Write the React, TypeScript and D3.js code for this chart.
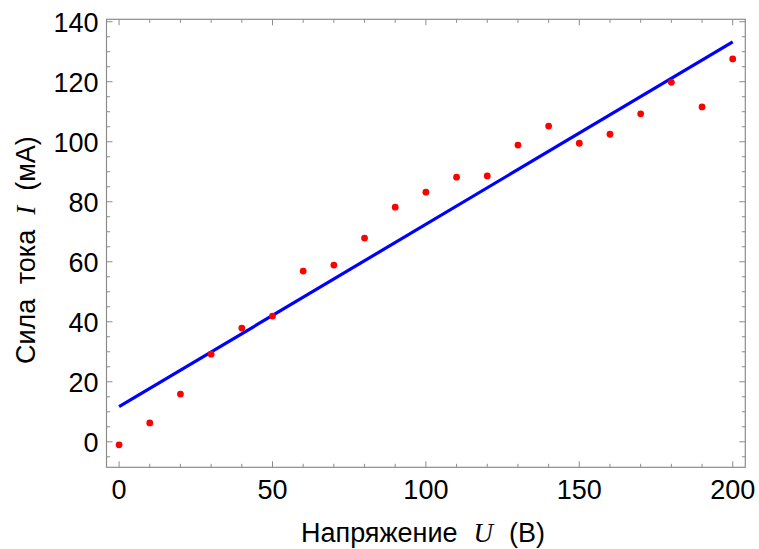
import React from "react";
import * as d3 from "d3";

const voltage = [0, 10, 20, 30, 40, 50, 60, 70, 80, 90, 100, 110, 120, 130, 140, 150, 160, 170, 180, 190, 200];
const current = [-1.0, 6.3, 15.9, 29.2, 37.9, 41.9, 56.9, 58.9, 67.9, 78.2, 83.2, 88.2, 88.6, 98.9, 105.2, 99.5, 102.5, 109.3, 119.8, 111.6, 127.6];
const fitU = [0, 200];
const fitI = [11.7, 133.3];
const xMajorTicks = [0, 50, 100, 150, 200];
const yMajorTicks = [0, 20, 40, 60, 80, 100, 120, 140];

const W = 759;
const H = 549;
const L = 106.5, R = 745.3, T = 19.3, B = 467.3;

export default function App() {
  const x = d3.scaleLinear().domain([-4.1, 204.1]).range([L, R]);
  const y = d3.scaleLinear().domain([-8.5, 140.8]).range([B, T]);
  const xMinor = d3.range(0, 201, 10).filter((v) => v % 50 !== 0);
  const yMinor = d3.range(-5, 141, 5).filter((v) => v % 20 !== 0);
  const line = d3
    .line<number>()
    .x((_, i) => x(fitU[i]))
    .y((d) => y(d));
  const frame = "#8c8c8c";
  const font = "'Liberation Sans', Arial, sans-serif";
  const serif = "'Liberation Serif', 'Times New Roman', serif";
  const maj = 6, min = 3.5;
  return (
    <svg width={W} height={H} style={{ position: "absolute", left: 0, top: 0, background: "#fff" }}>
      <rect x={L} y={T} width={R - L} height={B - T} fill="none" stroke={frame} strokeWidth={1.2} />
      {xMajorTicks.map((v) => (
        <g key={"xm" + v}>
          <line x1={x(v)} x2={x(v)} y1={B} y2={B - maj} stroke={frame} />
          <line x1={x(v)} x2={x(v)} y1={T} y2={T + maj} stroke={frame} />
          <text x={x(v)} y={B + 31.7} textAnchor="middle" fontFamily={font} fontSize={27} fill="#000">
            {v}
          </text>
        </g>
      ))}
      {xMinor.map((v) => (
        <g key={"xn" + v}>
          <line x1={x(v)} x2={x(v)} y1={B} y2={B - min} stroke={frame} />
          <line x1={x(v)} x2={x(v)} y1={T} y2={T + min} stroke={frame} />
        </g>
      ))}
      {yMajorTicks.map((v) => (
        <g key={"ym" + v}>
          <line x1={L} x2={L + maj} y1={y(v)} y2={y(v)} stroke={frame} />
          <line x1={R} x2={R - maj} y1={y(v)} y2={y(v)} stroke={frame} />
          <text x={L - 8} y={y(v) + 10} textAnchor="end" fontFamily={font} fontSize={27} fill="#000">
            {v}
          </text>
        </g>
      ))}
      {yMinor.map((v) => (
        <g key={"yn" + v}>
          <line x1={L} x2={L + min} y1={y(v)} y2={y(v)} stroke={frame} />
          <line x1={R} x2={R - min} y1={y(v)} y2={y(v)} stroke={frame} />
        </g>
      ))}
      <path d={line(fitI) || ""} fill="none" stroke="#0000ff" strokeWidth={3.2} />
      {voltage.map((u, i) => (
        <circle key={"p" + u} cx={x(u)} cy={y(current[i])} r={3.4} fill="#ff0000" />
      ))}
      <text x={301} y={541.7} textAnchor="start" fontFamily={font} fontSize={27} fill="#000">
        <tspan>Напряжение</tspan>
        <tspan dx={16} fontFamily={serif} fontStyle="italic">U</tspan>
        <tspan dx={16}>(В)</tspan>
      </text>
      <text
        transform={`translate(35, 364) rotate(-90)`}
        textAnchor="start"
        fontFamily={font}
        fontSize={27}
        fill="#000"
      >
        <tspan>Сила</tspan>
        <tspan dx={15}>тока</tspan>
        <tspan dx={15} fontFamily={serif} fontStyle="italic">I</tspan>
        <tspan dx={15}>(мА)</tspan>
      </text>
    </svg>
  );
}
